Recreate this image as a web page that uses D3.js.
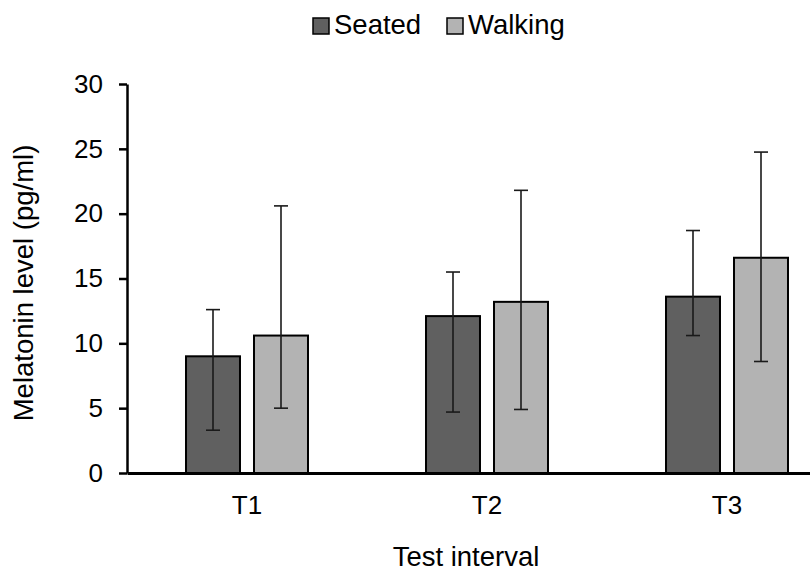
<!DOCTYPE html>
<html>
<head>
<meta charset="utf-8">
<script src="https://cdn.jsdelivr.net/npm/d3@7"></script>
<style>
  html, body { margin: 0; padding: 0; background: #fff; }
  svg { display: block; font-family: "Liberation Sans", Arial, sans-serif; }
</style>
</head>
<body>
<svg id="chart" width="810" height="572"></svg>
<script>
const categories = ["T1", "T2", "T3"];
const seriesNames = ["Seated", "Walking"];
const seatedMean = [9.0, 12.1, 13.6];
const seatedLow  = [3.3, 4.7, 10.6];
const seatedHigh = [12.6, 15.5, 18.7];
const walkingMean = [10.6, 13.2, 16.6];
const walkingLow  = [5.0, 4.9, 8.6];
const walkingHigh = [20.6, 21.8, 24.75];
const yTicks = [0, 5, 10, 15, 20, 25, 30];
const colors = ["#606060", "#b3b3b3"];

const svg = d3.select("#chart");
const tickFont = 26;
const titleFont = 27.5;

const x0 = d3.scaleBand().domain(categories).range([127, 847]).paddingInner(0.4917).paddingOuter(0.4917 / 2);
const x1 = d3.scaleBand().domain(seriesNames).range([0, x0.bandwidth()]).paddingInner(0.206);
const y = d3.scaleLinear().domain([0, 30]).range([473, 84]);

const data = [];
categories.forEach((c, i) => {
  data.push({cat: c, s: "Seated", v: seatedMean[i], lo: seatedLow[i], hi: seatedHigh[i], color: colors[0]});
  data.push({cat: c, s: "Walking", v: walkingMean[i], lo: walkingLow[i], hi: walkingHigh[i], color: colors[1]});
});

// bars
svg.append("g").selectAll("rect").data(data).join("rect")
  .attr("x", d => x0(d.cat) + x1(d.s))
  .attr("y", d => y(d.v))
  .attr("width", x1.bandwidth())
  .attr("height", d => y(0) - y(d.v))
  .attr("fill", d => d.color)
  .attr("stroke", "#000")
  .attr("stroke-width", 2);

// error bars
const eb = svg.append("g").attr("stroke", "#1a1a1a").attr("stroke-width", 1.6);
data.forEach(d => {
  const cx = x0(d.cat) + x1(d.s) + x1.bandwidth() / 2;
  eb.append("line").attr("x1", cx).attr("x2", cx).attr("y1", y(d.lo)).attr("y2", y(d.hi));
  eb.append("line").attr("x1", cx - 7).attr("x2", cx + 7).attr("y1", y(d.lo)).attr("y2", y(d.lo));
  eb.append("line").attr("x1", cx - 7).attr("x2", cx + 7).attr("y1", y(d.hi)).attr("y2", y(d.hi));
});

// y axis
const yAxis = d3.axisLeft(y).tickValues(yTicks).tickSize(8).tickPadding(16).tickSizeOuter(0);
const gy = svg.append("g").attr("transform", "translate(127,0)").call(yAxis);
gy.select(".domain").attr("stroke", "#000").attr("stroke-width", 2.5);
gy.selectAll(".tick line").attr("stroke", "#000").attr("stroke-width", 2.5);
gy.selectAll(".tick text").attr("font-size", tickFont).attr("font-family", "Liberation Sans, Arial, sans-serif").attr("fill", "#000");

// x axis
const xAxis = d3.axisBottom(x0).tickSize(0).tickPadding(23).tickSizeOuter(0);
const gx = svg.append("g").attr("transform", "translate(0,473)").call(xAxis);
gx.select(".domain").attr("stroke", "#000").attr("stroke-width", 3);
gx.selectAll(".tick text").attr("font-size", tickFont).attr("font-family", "Liberation Sans, Arial, sans-serif").attr("fill", "#000");

// axis titles
svg.append("text").attr("x", 466).attr("y", 566).attr("text-anchor", "middle")
  .attr("font-size", titleFont).text("Test interval");
svg.append("text").attr("transform", "translate(33,283) rotate(-90)").attr("text-anchor", "middle")
  .attr("font-size", titleFont).text("Melatonin level (pg/ml)");

// legend
const legendX = [313, 447];
const lg = svg.append("g");
seriesNames.forEach((s, i) => {
  lg.append("rect").attr("x", legendX[i]).attr("y", 18).attr("width", 16).attr("height", 16)
    .attr("fill", colors[i]).attr("stroke", "#000").attr("stroke-width", 1.5);
  lg.append("text").attr("x", legendX[i] + 21).attr("y", 34).attr("font-size", titleFont).text(s);
});
</script>
</body>
</html>
